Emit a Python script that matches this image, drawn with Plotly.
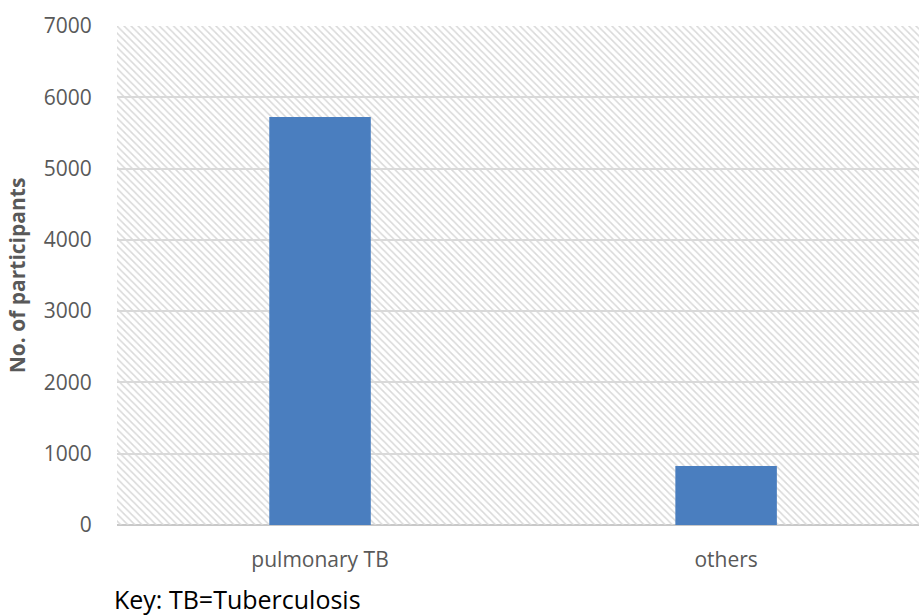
import plotly.graph_objects as go

categories = ["pulmonary TB", "others"]
participants = [5722, 827]
y_ticks = [0, 1000, 2000, 3000, 4000, 5000, 6000, 7000]

FONT = "Open Sans"
x_pos = list(range(len(categories)))
x_range = [-0.5, 1.475]

fig = go.Figure()
# hatched plot-area background
fig.add_trace(go.Bar(
    x=[(x_range[0] + x_range[1]) / 2], y=[y_ticks[-1]], width=[x_range[1] - x_range[0]],
    marker=dict(color="rgba(0,0,0,0)", line=dict(width=0),
                pattern=dict(shape="\\", fgcolor="#d9d9d9", bgcolor="rgba(0,0,0,0)",
                             size=5, solidity=0.3, fillmode="replace")),
    hoverinfo="skip", showlegend=False))
fig.add_trace(go.Bar(
    x=x_pos, y=participants, width=0.25,
    marker=dict(color="#4a7ebf", line=dict(width=0)),
    showlegend=False))

fig.update_layout(
    width=919, height=615,
    margin=dict(l=117, r=0, t=26, b=90),
    barmode="overlay",
    plot_bgcolor="white", paper_bgcolor="white",
    font=dict(family=FONT, color="#595959"),
    xaxis=dict(range=x_range, tickmode="array", tickvals=x_pos, ticktext=categories,
               tickfont=dict(size=21, color="#595959"), showgrid=False, zeroline=False,
               ticks="outside", ticklen=16, tickcolor="rgba(0,0,0,0)",
               showline=False),
    yaxis=dict(range=[0, 7000], tickmode="array", tickvals=y_ticks,
               tickfont=dict(size=21, color="#595959"),
               showgrid=True, gridcolor="#d9d9d9", gridwidth=1.5,
               zeroline=True, zerolinecolor="#c8c8c8", zerolinewidth=2,
               ticks="outside", ticklen=20, tickcolor="rgba(0,0,0,0)",
               title=dict(text="<b>No. of participants</b>", font=dict(size=21, color="#595959"),
                          standoff=12)),
    annotations=[dict(text="Key: TB=Tuberculosis", xref="paper", yref="paper",
                      x=-0.006, y=-0.148, xanchor="left", yanchor="middle", showarrow=False,
                      font=dict(size=25, color="#000000", family=FONT))],
)

fig.write_html("out.html")
